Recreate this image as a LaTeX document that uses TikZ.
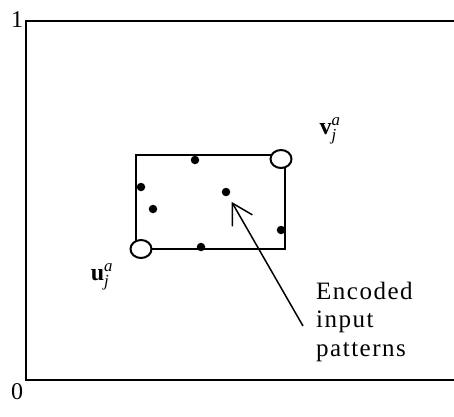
\documentclass[tikz,border=0pt]{standalone}
\usepackage{fontspec}
\setmainfont{Liberation Serif}
\usetikzlibrary{arrows.meta, positioning, shapes.geometric}

\begin{document}
\begin{tikzpicture}[
  x=1pt, y=-1pt,
  font=\fontsize{24}{28.3}\selectfont,
  frame/.style={draw=black, line width=2.4pt},
  hbox/.style={draw=black, line width=2pt},
  corner/.style={draw=black, fill=white, line width=2pt, ellipse, inner sep=0pt, minimum width=21pt, minimum height=18pt},
  pat/.style={circle, fill=black, inner sep=0pt, minimum size=8.5pt},
  lbl/.style={inner sep=0pt},
  arr/.style={-{Straight Barb[length=20pt, width=23pt, line width=1.5pt]}, line width=1.5pt},
]
\useasboundingbox (0,0) rectangle (454,416);

% Unit square (cut off on the right)
\draw[frame] (454,21) -- (26,21) -- (26,380) -- (454,380);
\node[lbl] (one) at (17,20) {1};
\node[lbl] (zero) at (17,392) {0};

% Hyperbox with its corner points
\draw[hbox] (136,155) rectangle (285,249);
\node[corner] (u) at (141,249) {};
\node[corner] (v) at (281,159) {};
\node[lbl] (ulab) at (102,277) {$\mathbf{u}^{\mathit{a}}_{\mathit{j}}$};
\node[lbl] (vlab) at (330,131) {$\mathbf{v}^{\mathit{a}}_{\mathit{j}}$};

% Encoded input patterns
\node[pat] (p1) at (195,160) {};
\node[pat] (p2) at (141,187) {};
\node[pat] (p3) at (153,209) {};
\node[pat] (p4) at (226,192) {};
\node[pat] (p5) at (281,230) {};
\node[pat] (p6) at (201,247) {};

\node[lbl, align=left, anchor=north west, font=\fontsize{25}{28.3}\selectfont\addfontfeatures{LetterSpace=6}] (enc) at (316,282) {Encoded\\input\\patterns};
\coordinate (tail) at (303,326);
\draw[arr, shorten >=7pt] (tail) -- (p4);

\end{tikzpicture}
\end{document}
